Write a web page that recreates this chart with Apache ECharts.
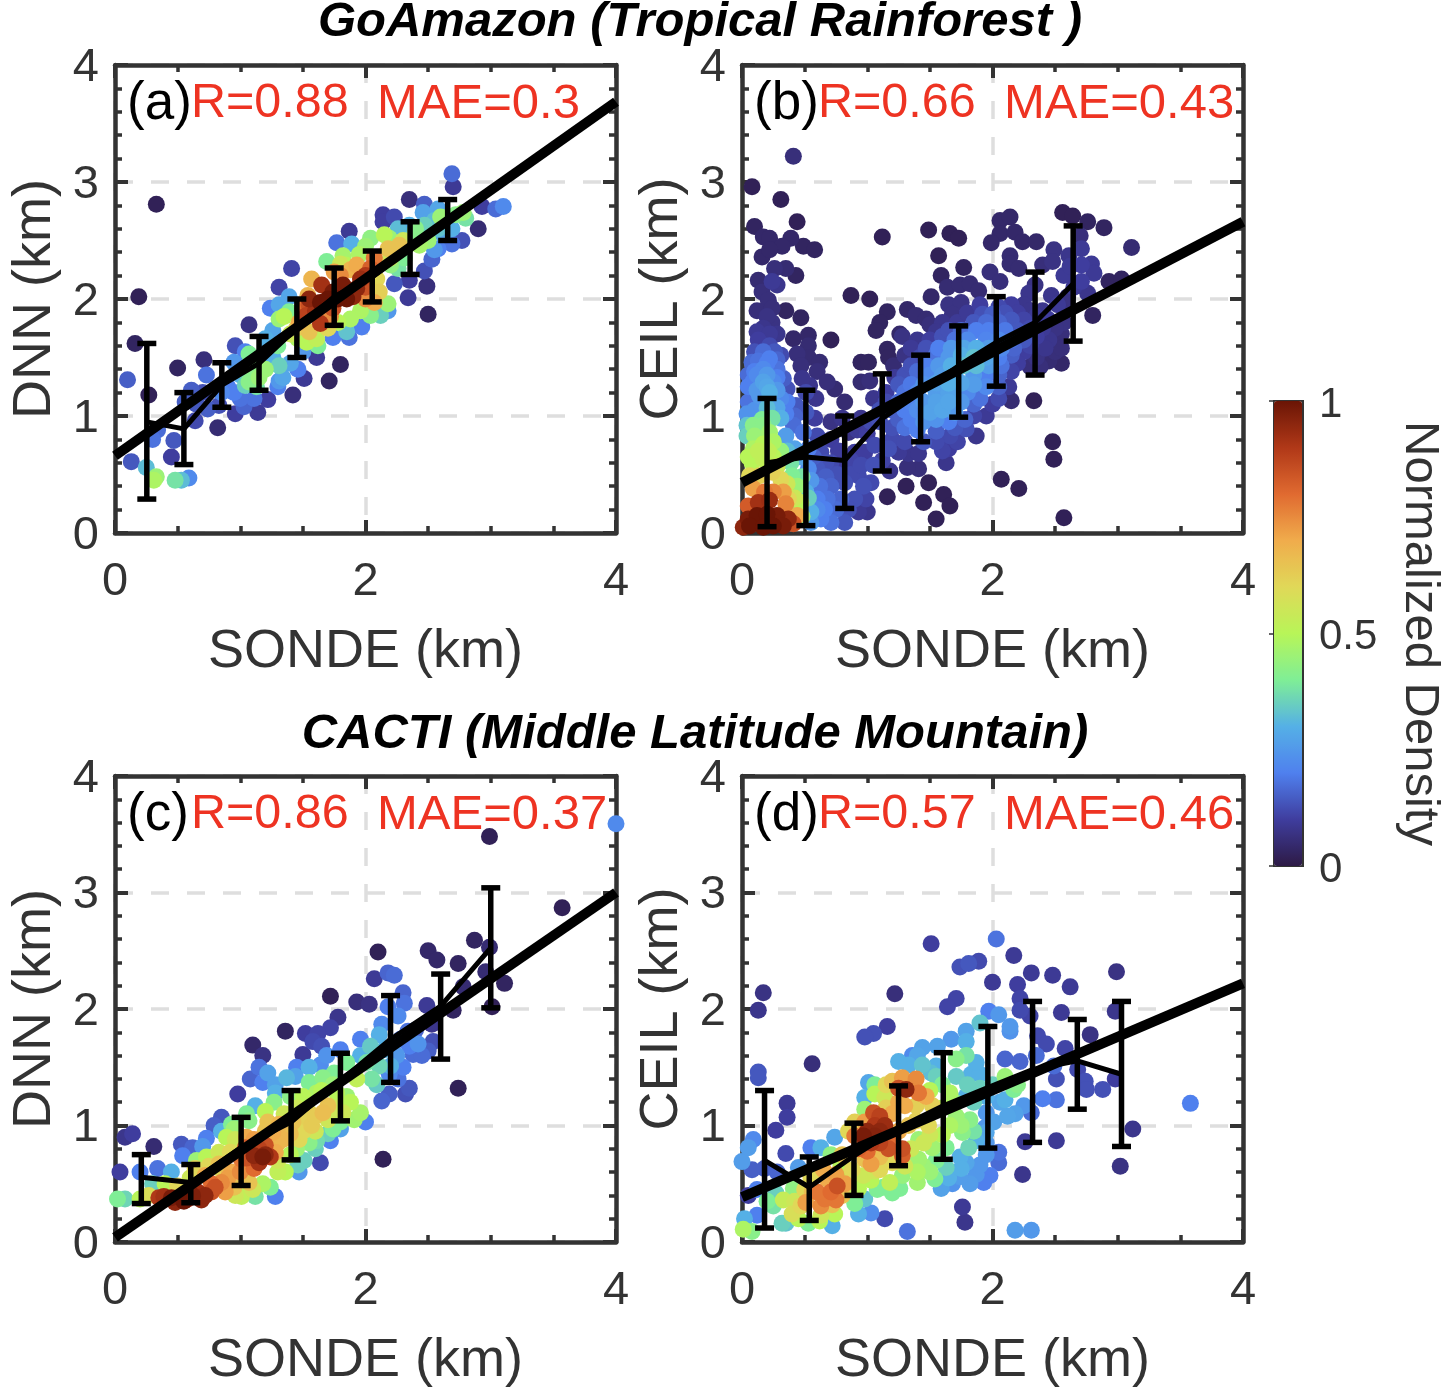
<!DOCTYPE html>
<html><head><meta charset="utf-8">
<style>html,body{margin:0;padding:0;background:#fff}#c{width:1446px;height:1389px}</style>
<script src="https://cdn.jsdelivr.net/npm/echarts@6/dist/echarts.min.js"></script>
</head><body><div id="c"></div>
<script>
// [sonde, retrieval, normalized density]
const scatterA=[[.33,2.81,.02],[.19,2.02,.02],[.16,1.62,.03],[.10,1.31,.15],[.27,1.18,.02],[.50,1.41,.03],[.71,1.48,.06],[.13,.61,.14],[.25,.56,.32],[.33,.48,.45],[.31,.45,.48],[.48,.45,.38],[.53,.45,.32],[.59,.47,.22],[.45,.65,.1],[.47,.79,.14],[.30,.80,.18],[.34,.88,.17],[.64,.96,.12],[.82,.90,.05],[.56,1.12,.15],[.61,1.22,.15],[.73,1.35,.18],[.83,1.09,.13],[.74,1.06,.15],[.96,1.02,.1],[1.03,1.08,.16],[1.14,1.03,.09],[1.22,1.14,.1],[1.11,1.15,.18],[1.42,1.18,.06],[1.51,1.32,.09],[1.46,1.40,.2],[1.61,1.50,.09],[1.71,1.30,.03],[1.80,1.44,.03],[1.31,1.30,.25],[1.34,1.33,.28],[1.31,1.43,.35],[1.07,1.29,.42],[1.15,1.33,.45],[1.04,1.26,.35],[.96,1.60,.13],[1.07,1.78,.07],[1.04,1.55,.2],[.95,1.46,.25],[1.07,1.53,.4],[1.19,1.49,.3],[1.26,1.73,.28],[1.24,1.92,.2],[1.31,2.10,.11],[1.41,2.26,.11],[1.31,1.95,.28],[1.39,2.02,.28],[1.35,1.85,.5],[1.26,1.5,.3],[1.2,1.66,.3],[1.04,1.38,.35],[.85,1.2,.22],[.9,1.25,.2],
[1.65,2.12,.92],[1.55,2.0,.95],[1.64,1.97,1],[1.74,2.06,.98],[1.82,2.12,.98],[1.85,2.0,1],[1.93,2.09,.95],[1.96,2.17,.93],[2.04,2.26,.82],[2.07,2.35,.78],[1.74,1.92,.85],[1.64,1.79,.9],[1.53,1.86,.88],[1.5,1.92,.8],[1.57,2.17,.68],[1.88,2.25,.68],[1.54,2.03,.68],[1.8,2.2,.75],[2.18,2.43,.65],[2.27,2.46,.65],[1.55,1.72,.65],[1.93,2.29,.7],[2.07,1.97,.7],[2.11,2.06,.62],[2.09,2.17,.6],
[1.61,1.66,.52],[1.53,1.63,.5],[1.46,1.66,.48],[1.31,1.83,.45],[1.39,1.89,.4],[1.84,2.29,.5],[1.82,2.37,.47],[1.69,2.32,.4],[2.04,2.52,.43],[1.96,1.9,.48],[1.88,1.83,.48],[2.04,1.86,.42],[2.18,1.96,.45],[2.12,1.86,.35],[2.18,1.9,.25],[1.85,1.72,.33],[1.74,1.67,.2],[1.87,1.67,.18],[1.97,1.76,.2],[1.89,2.47,.3],[1.77,2.48,.18],[1.87,2.58,.09],[2.23,2.13,.14],[2.34,2.01,.09],[2.49,2.11,.06],[2.5,1.87,.03],[2.35,2.16,.1],[2.47,2.24,.13],[2.53,2.34,.16],[2.58,2.43,.2],[2.69,2.47,.18],[2.77,2.5,.13],[2.9,2.6,.05],[2.93,2.79,.1],[3.04,2.77,.17],[3.1,2.79,.22],[2.69,3.07,.17],[2.7,2.96,.09],[2.35,2.85,.06],[2.47,2.81,.15],[2.46,2.74,.27],[2.58,2.77,.28],[2.14,2.72,.1],[2.23,2.7,.12],[2.14,2.66,.1],[2.55,2.67,.32],[2.72,2.72,.42],[2.78,2.74,.45],[2.8,2.69,.38],[2.47,2.63,.35],[2.58,2.6,.33],[2.69,2.6,.3],[2.39,2.55,.42],[2.43,2.46,.47],[2.5,2.5,.45],[2.31,2.35,.4],[2.26,2.26,.38],[2.2,2.29,.43],[2.19,2.52,.45],[2.26,2.6,.32],[2.35,2.63,.3],
[1.7,2.0,1],[1.6,1.9,.92],[1.78,2.0,1],[1.9,2.02,.95],[2.0,2.1,.85],[1.45,1.75,.62],[1.4,1.7,.55],[1.3,1.6,.4],[1.2,1.4,.45],[1.1,1.4,.42],[1.0,1.35,.3],[1.13,1.25,.38],[1.3,1.25,.2],[.95,1.2,.2],[1.0,1.15,.18],[.7,1.2,.13],[.65,1.1,.14],[1.5,1.55,.25],[1.4,1.45,.28],[1.62,1.6,.4],[1.55,1.95,.85],[1.47,1.8,.7],[1.7,1.75,.6],[1.78,1.8,.5],[2.0,2.0,.75],[2.1,2.3,.6],[2.2,2.35,.55],[2.3,2.5,.55],[2.4,2.6,.42],[2.6,2.7,.45],[2.62,2.55,.28],[2.55,2.42,.25],[1.95,2.38,.48],[2.0,2.45,.45],[1.8,2.3,.55],[2.15,2.55,.5],[1.75,2.23,.72],[2.0,2.2,.9],[1.72,1.85,.75]];
const scatterB=[[.08,2.96,.02],[.41,3.22,.06],[.31,2.85,.02],[.10,2.62,.03],[.44,2.66,.02],[.17,2.53,.04],[.22,2.52,.04],[.39,2.52,.04],[.32,2.45,.04],[.49,2.45,.03],[.58,2.42,.03],[.16,2.36,.04],[.22,2.42,.04],[.26,2.26,.06],[.35,2.26,.05],[.13,2.16,.05],[.24,2.15,.09],[.43,2.2,.03],[.16,2.06,.06],[.28,2.12,.08],[.21,1.99,.06],[.12,1.90,.06],[.24,1.92,.06],[.35,1.90,.03],[.47,1.84,.03],[.24,1.80,.07],[.17,1.75,.08],[.28,1.70,.08],[.13,1.65,.1],[.17,1.55,.17],[.22,1.60,.12],[.08,1.46,.17],[.22,1.49,.2],[.31,1.52,.12],[.10,1.38,.2],[.17,1.40,.22],[.28,1.40,.18],[.17,1.29,.27],[.09,1.30,.2],[.25,1.29,.22],[.33,1.32,.15],[.05,1.12,.18],[.14,1.17,.25],[.22,1.20,.3],[.31,1.15,.22],[.36,1.23,.13],
[.04,.92,.33],[.09,.92,.42],[.04,.83,.35],[.1,.83,.45],[.17,.92,.42],[.24,.98,.38],[.31,.98,.3],[.22,.86,.46],[.35,.83,.26],[.09,.72,.48],[.17,.76,.5],[.25,.78,.48],[.31,.7,.44],[.08,.6,.5],[.17,.63,.52],[.25,.65,.5],[.39,.6,.38],[.40,.49,.4],[.44,.4,.45],[.47,.26,.5],[.44,.2,.45],[.51,.35,.3],[.55,.18,.3],[.06,.49,.6],[.14,.49,.62],[.24,.52,.62],[.31,.46,.6],[.09,.38,.72],[.18,.35,.78],[.25,.35,.76],[.33,.35,.72],[.37,.29,.6],[.35,.25,.76],[.05,.23,.83],[.13,.26,.92],[.22,.28,.93],[.05,.12,.98],[.12,.15,1],[.2,.16,1],[.28,.15,.98],[.37,.12,.95],[.06,.06,1],[.17,.05,1],[.25,.06,1],[.33,.06,.98],[.41,.08,.85],[.01,.05,.95],
[.41,1.66,.04],[.53,1.69,.04],[.71,1.65,.02],[.53,1.6,.05],[.44,1.53,.06],[.53,1.5,.05],[.47,1.43,.06],[.62,1.46,.05],[.6,1.38,.06],[.68,1.29,.06],[.74,1.23,.05],[.82,1.12,.05],[.59,1.15,.08],[.54,1.26,.08],[.48,1.32,.08],[.51,1.2,.12],[.58,.98,.1],[.51,1.03,.14],[.43,1.09,.14],[.41,.92,.17],[.49,.86,.18],[.6,.83,.12],[.71,.95,.07],[.8,.98,.08],[.85,.86,.07],[.71,.8,.1],[.63,.69,.12],[.53,.72,.2],[.6,.55,.14],[.71,.6,.12],[.82,.58,.1],[.9,.69,.1],[.98,.69,.1],[.62,.4,.18],[.71,.4,.16],[.82,.43,.13],[.93,.49,.12],[1.03,.43,.12],[.6,.29,.2],[.68,.29,.18],[.79,.29,.16],[.9,.29,.13],[.99,.29,.11],[.63,.12,.2],[.71,.09,.18],[.82,.09,.14],[.93,.18,.09],[1.0,.18,.08],[.55,.09,.25],
[1.12,2.53,.02],[1.49,2.59,.02],[1.66,2.56,.02],[1.73,2.52,.02],[1.57,2.37,.02],[1.77,2.27,.03],[1.59,2.2,.03],[.87,2.03,.02],[1.02,2.0,.02],[1.51,2.02,.04],[1.64,2.1,.05],[1.74,2.12,.05],[1.82,2.13,.05],[1.89,2.07,.05],[1.16,1.89,.03],[1.32,1.91,.04],[1.1,1.8,.03],[1.07,1.73,.03],[1.26,1.7,.04],[1.39,1.86,.05],[1.47,1.83,.05],[1.16,1.57,.03],[1.17,1.5,.03],[.95,1.46,.03],[1.01,1.46,.03],[1.21,1.43,.05],[.95,1.29,.05],[1.02,1.3,.06],
[2.06,2.67,.04],[2.14,2.7,.04],[2.06,2.56,.04],[2.18,2.57,.04],[1.99,2.48,.04],[2.24,2.49,.04],[2.35,2.49,.04],[2.14,2.37,.05],[2.14,2.3,.05],[2.21,2.26,.05],[1.98,2.23,.06],[2.06,2.15,.06],[2.56,2.74,.02],[2.64,2.71,.02],[2.76,2.66,.03],[2.89,2.61,.03],[3.11,2.44,.05],[2.93,2.15,.03],[3.03,2.17,.03],[2.8,1.86,.03],[2.7,2.54,.06],[2.49,2.42,.07],[2.61,2.37,.08],[2.71,2.43,.09],[2.4,2.29,.06],[2.48,2.32,.07],[2.79,2.3,.09],[2.71,2.29,.1],[2.81,2.22,.09],[2.57,2.2,.09],[2.71,2.15,.1],[2.76,2.05,.08],[2.47,2.03,.08],[2.29,2.05,.08],[2.34,2.12,.07],[2.52,1.95,.09],[2.6,1.92,.07],[2.57,1.8,.07],[2.44,1.83,.1],[2.33,1.13,.02],[2.48,.78,.02],[2.49,.63,.02],[2.07,.46,.02],[2.21,.38,.02],[2.57,.13,.02],[1.16,.31,.02],[1.31,.4,.02],[1.49,.43,.02],[1.61,.33,.02],[1.45,.26,.02],[1.66,.23,.02],[1.55,.12,.02],[1.63,.6,.08],[1.6,.7,.11],[1.41,.55,.06],[1.32,.56,.06],[1.33,.68,.08],[1.41,.68,.08],[1.25,.69,.09],[1.18,.53,.08],
[1.06,.75,.12],[1.17,.72,.13],[1.1,.95,.13],[1.2,.9,.13],[1.3,.9,.18],[1.4,.88,.2],[1.55,.87,.15],[1.7,.9,.14],[1.87,.83,.08],[1.79,.89,.13],[1.66,.83,.12],[1.1,1.05,.13],[1.2,1.05,.15],[1.3,1.05,.2],[1.4,1.05,.23],[1.5,1.03,.27],[1.6,1.05,.28],[1.7,1.03,.25],[1.85,1.0,.11],[1.95,1.0,.09],[2.0,1.1,.1],[1.05,1.15,.08],[1.15,1.2,.1],[1.3,1.2,.18],[1.4,1.2,.22],[1.55,1.2,.26],[1.65,1.2,.27],[1.8,1.2,.22],[1.9,1.15,.18],[2.05,1.15,.12],[2.15,1.13,.05],[2.13,1.25,.09],[1.22,1.33,.09],[1.3,1.35,.13],[1.4,1.38,.17],[1.5,1.35,.22],[1.6,1.35,.26],[1.7,1.35,.28],[1.85,1.35,.25],[1.95,1.35,.2],[2.05,1.35,.16],[2.15,1.38,.11],[2.3,1.42,.06],[2.45,1.47,.05],[2.55,1.45,.04],[1.3,1.52,.07],[1.42,1.5,.12],[1.55,1.52,.18],[1.65,1.5,.25],[1.75,1.52,.3],[1.85,1.5,.33],[1.95,1.5,.28],[2.05,1.5,.2],[2.15,1.52,.15],[2.25,1.55,.1],[2.35,1.5,.07],[2.5,1.55,.06],[1.28,1.68,.07],[1.4,1.65,.08],[1.5,1.65,.1],[1.6,1.68,.13],[1.7,1.65,.18],[1.8,1.65,.22],[1.95,1.65,.21],[2.05,1.65,.22],[2.15,1.65,.18],[2.25,1.65,.14],[2.35,1.68,.1],[2.45,1.65,.08],[2.55,1.7,.06],[1.5,1.78,.06],[1.6,1.8,.08],[1.72,1.8,.09],[1.85,1.8,.14],[1.95,1.8,.17],[2.05,1.8,.16],[2.15,1.82,.14],[2.25,1.82,.11],[2.35,1.85,.09],[1.65,1.95,.07],[1.75,1.97,.07],[1.9,1.95,.1],[2.05,1.93,.12],[2.15,1.95,.1],[2.25,1.95,.08],
[.05,1.25,.2],[.12,1.22,.25],[.2,1.25,.28],[.28,1.22,.25],[.36,1.12,.2],[.12,1.35,.22],[.2,1.35,.25],[.28,1.33,.2],[.05,1.35,.17],[.13,1.47,.18],[.2,1.45,.2],[.28,1.48,.16],[.1,1.55,.13],[.26,1.55,.14],[.12,1.72,.09],[.22,1.7,.09],[.2,1.85,.07],[.1,1.05,.24],[.2,1.07,.32],[.28,1.07,.28],[.04,1.02,.24],[.35,1.02,.2],[.42,1.0,.16],[.16,.97,.4],[.05,.65,.5],[.13,.7,.52],[.21,.7,.52],[.28,.57,.56],[.36,.7,.32],[.42,.72,.27],[.47,.65,.28],[.53,.55,.22],[.48,.48,.38],[.55,.45,.25],[.53,.3,.35],[.48,.14,.45],[.42,.3,.55],[.36,.42,.55],[.44,.15,.7],[.6,.2,.22],[.66,.2,.2],[.75,.2,.17],[.85,.2,.13],[.67,.48,.15],[.76,.5,.13],[.87,.5,.12],[.97,.4,.13],[.57,.65,.15],[.67,.6,.13],[.77,.7,.1],[.87,.62,.11],[.95,.58,.12],[1.05,.58,.13],[1.12,.62,.11],[1.0,.85,.1],[.92,.88,.09],[.95,.98,.08],[1.03,.95,.12],
[1.15,1.12,.12],[1.25,1.12,.17],[1.35,1.12,.21],[1.45,1.12,.25],[1.55,1.12,.27],[1.65,1.12,.28],[1.75,1.12,.25],[1.85,1.1,.16],[1.25,.97,.15],[1.35,.97,.2],[1.45,.95,.24],[1.55,.97,.24],[1.65,.95,.2],[1.78,.97,.16],[1.2,.8,.12],[1.3,.78,.12],[1.45,.78,.14],[1.55,.78,.12],[1.65,.72,.1],[1.72,.78,.11],[1.25,1.27,.14],[1.35,1.27,.19],[1.45,1.27,.24],[1.55,1.28,.27],[1.65,1.28,.3],[1.75,1.28,.28],[1.85,1.27,.26],[1.95,1.25,.22],[2.05,1.25,.15],[1.35,1.43,.13],[1.47,1.43,.2],[1.57,1.43,.25],[1.67,1.43,.3],[1.77,1.43,.33],[1.87,1.43,.32],[1.97,1.43,.26],[2.07,1.43,.18],[2.2,1.45,.1],[2.38,1.42,.06],[1.35,1.58,.09],[1.47,1.58,.13],[1.57,1.58,.2],[1.67,1.58,.25],[1.77,1.58,.28],[1.87,1.58,.3],[1.97,1.58,.26],[2.07,1.58,.22],[2.17,1.58,.16],[2.3,1.6,.11],[2.42,1.58,.08],[2.55,1.58,.06],[1.55,1.72,.08],[1.65,1.73,.13],[1.75,1.73,.17],[1.87,1.73,.2],[1.97,1.73,.2],[2.1,1.73,.19],[2.2,1.73,.14],[2.3,1.75,.12],[2.4,1.75,.09],[2.5,1.75,.07],[1.68,1.87,.07],[1.8,1.88,.09],[1.92,1.87,.13],[2.0,1.87,.15],[2.1,1.88,.13],[2.2,1.88,.1],[2.3,1.9,.08],[2.4,1.9,.08],[2.6,2.02,.07],[2.65,2.1,.09],[2.62,2.28,.09]];
const scatterC=[[2.99,3.48,.02],[4.0,3.59,.22],[3.57,2.87,.02],[2.87,2.59,.03],[2.99,2.53,.05],[2.5,2.5,.04],[2.57,2.42,.04],[2.74,2.39,.03],[2.1,2.49,.02],[2.78,2.19,.05],[2.96,2.32,.05],[3.11,2.22,.03],[3.01,2.02,.02],[2.7,1.99,.03],[2.53,1.87,.08],[2.49,2.03,.09],[1.72,2.11,.02],[1.93,2.06,.06],[2.03,2.04,.07],[1.78,1.93,.08],[1.72,1.84,.11],[1.36,1.81,.03],[1.52,1.79,.1],[1.62,1.79,.11],[1.58,1.72,.12],[1.65,1.68,.13],[1.5,1.61,.09],[1.1,1.69,.04],[1.18,1.6,.07],[2.07,2.26,.09],[2.18,2.31,.16],[2.23,2.29,.17],[2.3,2.14,.16],[2.31,2.05,.18],[2.18,2.02,.2],[2.26,1.94,.22],[2.13,1.87,.22],[2.34,1.81,.18],[2.42,1.7,.24],[2.54,1.72,.13],[2.5,1.64,.15],[2.38,1.61,.17],[2.35,1.68,.2],[2.28,1.74,.18],[2.11,1.78,.3],[1.96,1.74,.2],[2.04,1.68,.34],[1.96,1.6,.3],[1.8,1.65,.2],[1.69,1.6,.24],[1.64,1.52,.23],[1.85,1.54,.4],[2.01,1.54,.38],[2.11,1.51,.36],[2.2,1.51,.3],[2.19,1.44,.22],[2.26,1.4,.18],[2.35,1.32,.14],[2.32,1.27,.13],[2.19,1.27,.15],[2.13,1.21,.16],[2.05,1.4,.38],[2.09,1.35,.34],[2.74,1.32,.02],[2.14,.71,.02],
[.08,.9,.08],[.14,.93,.1],[.31,.82,.05],[.04,.6,.1],[.2,.6,.2],[.34,.63,.18],[.45,.6,.3],[.53,.84,.14],[.62,.81,.16],[.54,.74,.2],[.73,.89,.2],[.79,1.0,.15],[.85,1.07,.14],[.98,1.27,.1],[1.08,1.4,.16],[1.15,1.5,.18],[1.18,1.37,.2],[1.22,1.45,.27],[1.28,1.35,.27],[1.37,1.41,.31],[1.44,1.42,.27],[1.28,1.28,.3],[1.55,1.37,.4],[1.66,1.41,.42],[1.61,1.28,.48],[1.12,1.17,.3],[1.27,1.2,.42],[.93,1.01,.4],[1.07,1.04,.42],
[2.0,1.03,.2],[1.8,.97,.27],[1.72,.87,.2],[1.64,.68,.12],[1.47,.6,.25],[1.46,.66,.35],[1.51,.7,.35],[1.61,.87,.37],[1.74,.97,.4],[1.55,.85,.42],[1.28,.39,.2],[1.12,.39,.38],[1.24,.47,.4],[1.18,.5,.48],[1.36,.6,.5],[1.3,.6,.52],[1.01,.39,.52],[.96,.4,.55],[.02,.37,.4],[.08,.37,.36],[.27,.4,.58],[.2,.37,.5],
[.39,.39,.92],[.48,.34,.95],[.58,.37,.9],[.69,.36,.95],[.66,.43,.93],[.77,.43,.85],[.35,.38,.9],[.77,.5,.8],[.85,.51,.75],[.88,.43,.72],[.72,.57,.7],[.64,.63,.6],[.73,.73,.5],[.83,.67,.65],[.93,.6,.7],[1.07,.51,.65],[1.01,.71,.78],[1.11,.63,.8],[1.18,.73,.98],[1.11,.74,.95],[1.24,.73,.9],[1.04,.81,.82],[1.2,.83,.85],[1.28,.77,.7],[1.11,.88,.72],[1.26,.94,.7],[1.34,.88,.68],[1.47,.88,.6],[1.57,1.0,.63],[1.66,1.11,.66],[1.7,1.17,.65],[1.55,1.11,.6],[1.42,1.03,.65],[1.31,1.01,.68],[1.22,1.03,.65],[.96,.88,.55],[.89,.9,.5],[.92,.77,.6],[.83,.77,.55],[1.82,1.11,.55],[1.88,1.2,.5],[1.96,1.11,.47],[1.91,1.05,.46],[1.5,1.25,.5],[1.77,1.28,.5],[1.93,1.4,.52],[1.74,1.35,.45],
[.45,.38,.98],[.55,.35,1],[.62,.4,.97],[.72,.4,.95],[.8,.47,.85],[.9,.55,.72],[1.0,.6,.75],[1.05,.72,.85],[1.15,.68,.92],[1.2,.75,.95],[1.15,.8,.88],[1.05,.9,.7],[1.2,.95,.65],[1.3,.85,.68],[1.4,.93,.66],[1.5,.95,.6],[1.5,1.08,.62],[1.6,1.08,.63],[1.6,.95,.55],[1.7,1.05,.55],[1.75,1.15,.55],[1.85,1.25,.45],[1.45,1.15,.55],[1.35,1.1,.55],[1.2,1.12,.5],[1.4,1.25,.42],[1.3,.7,.55],[1.4,.75,.5],[1.45,.8,.45],[1.6,.8,.35],[1.7,.93,.35],[1.8,1.03,.4],[1.1,.45,.55],[.95,.47,.65],[.85,.62,.6],[.75,.65,.6],[.65,.7,.45],[.6,.55,.55],[.5,.48,.6],[.4,.5,.5],[.3,.5,.35],[.95,.97,.45],[1.05,1.1,.4],[.85,.95,.3],[.7,.82,.25],[2.4,1.82,.16],[2.25,1.6,.25],[2.15,1.65,.3],[2.3,1.5,.2],[2.45,1.6,.17],[1.55,1.5,.3],[1.45,1.5,.2],[1.75,1.45,.4],[1.65,1.3,.5]];
const scatterD=[[1.51,2.56,.1],[2.03,2.6,.18],[2.17,2.46,.09],[1.89,2.41,.12],[1.81,2.39,.14],[1.74,2.36,.13],[2.31,2.31,.09],[2.48,2.29,.09],[2.62,2.19,.09],[2.99,2.32,.07],[2.0,2.23,.09],[2.2,2.21,.1],[1.22,2.13,.06],[.17,2.14,.07],[.13,1.99,.08],[1.71,2.09,.11],[1.64,2.02,.11],[2.22,2.09,.11],[2.22,1.99,.12],[2.3,1.94,.11],[2.55,1.97,.09],[2.98,1.98,.08],[1.16,1.85,.1],[1.05,1.79,.13],[.98,1.76,.13],[.56,1.53,.06],[.13,1.46,.14],[.13,1.41,.14],[.36,1.19,.09],[.36,1.07,.1],[.27,.96,.1],[.35,.76,.12],[2.78,1.78,.07],[2.36,1.77,.12],[2.43,1.7,.12],[2.58,1.66,.11],[2.1,1.57,.16],[2.22,1.55,.16],[2.35,1.6,.17],[2.49,1.51,.17],[2.51,1.4,.13],[2.68,1.48,.12],[2.74,1.38,.13],[2.75,1.31,.13],[2.88,1.31,.13],[2.98,1.4,.1],[3.58,1.19,.2],[3.12,.97,.08],[3.02,.65,.07],[2.51,.87,.09],[2.26,.86,.09],[2.24,.58,.08],[2.51,1.22,.18],[2.4,1.23,.2],[2.31,1.11,.17],[2.25,1.17,.25],[2.18,1.1,.27],[2.12,1.08,.28],[2.06,1.2,.28],[1.95,1.11,.25],[2.01,1.03,.27],[1.94,.98,.25],
[1.76,.3,.09],[1.78,.17,.08],[2.18,.1,.26],[2.31,.1,.25],[1.32,.09,.18],[1.14,.2,.12],[1.03,.25,.23],[.93,.24,.3],[.98,.37,.33],[2.05,.77,.18],[2.05,.68,.17],[1.98,.57,.2],[1.93,.51,.2],[1.87,.58,.25],[1.82,.5,.26],[1.74,.56,.26],[1.68,.5,.24],[1.59,.46,.27],[1.9,.66,.25],[1.79,.68,.28],[1.74,.73,.3],[1.63,.64,.35],[1.54,.54,.4],[1.4,.51,.46],[1.26,.46,.4],[1.13,.47,.4],[1.28,.57,.44],[1.18,.51,.52],[1.03,.53,.5],[.97,.57,.55],[1.06,.61,.55],[1.41,.71,.46],[1.52,.81,.46],[1.41,.88,.45],[1.63,.81,.4],[1.81,.81,.36],[1.87,.87,.3],[1.95,.94,.28],[1.76,.94,.42],[1.66,1.0,.48],[1.82,1.05,.42],[1.71,1.08,.45],[1.49,1.0,.6],
[1.66,1.28,.48],[1.79,1.25,.3],[1.83,1.44,.3],[1.9,1.44,.3],[1.87,1.54,.3],[1.79,1.6,.38],[1.71,1.42,.34],[1.71,1.57,.42],[1.79,1.72,.3],[1.79,1.81,.27],[1.67,1.74,.25],[1.9,1.88,.33],[1.97,1.98,.2],[2.05,1.95,.25],[2.14,1.85,.25],[2.14,1.81,.24],[1.56,1.68,.27],[1.44,1.67,.27],[1.36,1.6,.22],[1.33,1.52,.3],[1.44,1.52,.33],[1.55,1.51,.3],[1.51,1.45,.32],[2.1,1.42,.45],[2.17,1.31,.4],[2.2,1.35,.42],[1.01,1.37,.28],[1.06,1.35,.4],[.98,1.24,.3],[1.06,1.27,.5],[1.14,1.24,.55],[.98,1.14,.45],
[1.2,1.38,.65],[1.28,1.41,.72],[1.39,1.4,.75],[1.31,1.31,.95],[1.41,1.28,.78],[1.47,1.25,.7],[1.52,1.17,.62],[1.39,1.17,.62],[1.05,1.11,.85],[1.1,1.08,.88],[.98,1.03,.72],[1.06,1.0,.9],[1.14,1.0,.93],[.97,.91,.98],[1.06,.91,.96],[.9,.91,.78],[.93,.8,.82],[1.03,.85,.9],[1.17,.8,.85],[1.28,.8,.85],[1.28,.74,.82],[1.17,.91,.75],[1.33,1.0,.65],[1.39,1.04,.62],[1.03,.67,.72],[1.1,.73,.66],[.98,.71,.65],
[.76,.48,.85],[.82,.5,.72],[.71,.43,.8],[.75,.36,.78],[.66,.37,.78],[.6,.43,.78],[.68,.54,.7],[.63,.31,.75],[.51,.34,.72],[.56,.43,.66],[.79,.66,.5],[.71,.75,.43],[.74,.9,.28],[.63,.81,.3],[.55,.81,.2],[.45,.64,.26],[.28,.6,.16],[.18,.63,.15],[.08,.62,.15],[0,.69,.26],[.05,.81,.26],[.09,.88,.22],[.05,.4,.1],[.12,.23,.2],[.02,.2,.3],[.01,.11,.48],[.08,.09,.42],[.35,.16,.33],[.32,.16,.35],[.53,.16,.4],[.72,.14,.3],[.25,.31,.38],[.41,.46,.43],[.33,.36,.53],[.4,.24,.58],[.47,.31,.6],[.74,.24,.5],[.63,.23,.55],[.93,.46,.5],[.85,.57,.55],
[1.0,.95,.95],[1.1,.95,.95],[1.0,.78,.8],[1.1,.85,.88],[1.2,.9,.8],[1.25,.95,.7],[1.1,.62,.6],[1.2,.68,.6],[1.3,.65,.55],[1.35,.8,.55],[1.45,.85,.55],[1.5,.92,.55],[1.45,.65,.45],[1.55,.7,.4],[1.6,.92,.5],[1.75,1.0,.45],[1.85,.95,.38],[1.6,1.15,.5],[1.7,1.2,.42],[1.85,1.2,.35],[1.95,1.25,.3],[2.0,1.35,.35],[1.9,1.32,.35],[1.8,1.35,.35],[1.6,1.35,.4],[1.5,1.3,.5],[1.55,1.42,.35],[1.4,1.6,.28],[1.25,1.55,.3],[1.15,1.15,.62],[1.25,1.2,.7],[1.35,1.32,.75],[1.25,1.32,.85],[1.15,1.35,.6],[.9,1.03,.62],[.85,.95,.6],[.8,.75,.65],[.88,.62,.6],[.75,.58,.72],[.65,.62,.7],[.55,.55,.6],[.5,.45,.6],[.42,.35,.55],[.62,.18,.5],[.72,.32,.65],[.8,.4,.65],[.45,.2,.5],[.2,.35,.4],[.27,.42,.35],[.12,.45,.2],[1.08,.45,.4],[1.2,.42,.4],[.9,.33,.4],[.85,.45,.55],[1.4,.6,.48],[1.5,.6,.45],[1.65,.55,.3],[1.75,.63,.3],[1.95,.75,.25],[1.95,.85,.25],[2.1,1.22,.3],[1.3,1.17,.7],[1.2,1.1,.7]];
// [sonde bin centre, mean, low, high]
const binsA=[[.254,.95,.29,1.62],[.55,.89,.585,1.2],[.853,1.265,1.075,1.455],[1.15,1.45,1.22,1.68],[1.452,1.75,1.5,2.0],[1.75,2.02,1.775,2.265],[2.054,2.19,1.975,2.41],[2.356,2.43,2.21,2.66],[2.656,2.68,2.5,2.85]];
const binsB=[[.2,.6,.054,1.15],[.51,.65,.063,1.22],[.82,.62,.21,1.0],[1.12,.98,.53,1.36],[1.426,1.2,.78,1.52],[1.73,1.43,.99,1.77],[2.03,1.63,1.255,2.02],[2.34,1.8,1.35,2.23],[2.644,2.13,1.64,2.625]];
const binsC=[[.21,.555,.33,.75],[.605,.51,.337,.665],[1.007,.81,.485,1.07],[1.406,1.03,.705,1.3],[1.8,1.385,1.04,1.62],[2.2,1.74,1.37,2.115],[2.6,2.025,1.57,2.3],[3.0,2.525,2.01,3.04]];
const binsD=[[.18,.7,.12,1.3],[.537,.47,.185,.73],[.894,.74,.4,1.02],[1.25,.98,.655,1.34],[1.607,1.17,.71,1.625],[1.963,1.325,.806,1.85],[2.32,1.48,.855,2.065],[2.677,1.555,1.14,1.91],[3.03,1.44,.82,2.065]];
const fitA=[[0,.66],[4,3.686]];
const fitB=[[0,.43],[4,2.66]];
const fitC=[[0,.04],[4,3.0]];
const fitD=[[0,.385],[4,2.22]];
const panelTags=['(a)','(b)','(c)','(d)'];
const panelR=['R=0.88','R=0.66','R=0.86','R=0.57'];
const panelMAE=['MAE=0.3','MAE=0.43','MAE=0.37','MAE=0.46'];
const yNames=['DNN (km)','CEIL (km)','DNN (km)','CEIL (km)'];
const xName='SONDE (km)';
const titles=['GoAmazon (Tropical Rainforest )','CACTI (Middle Latitude Mountain)'];
const colorStops=['#2d1a45','#3f3d9e','#4f80ee','#55b0e6','#7fee96','#b8f558','#e0d858','#f0ac4c','#e06a30','#b03818','#6a1505'];

const FONT='"Liberation Sans",Arial,sans-serif', INK='#333';
const rects=[{l:115,t:65},{l:742,t:65},{l:115,t:776},{l:742,t:776}];
const W=501,H=468;
const scatters=[scatterA,scatterB,scatterC,scatterD],bins=[binsA,binsB,binsC,binsD],fits=[fitA,fitB,fitC,fitD];
const grid=[],xAxis=[],yAxis=[],series=[],graphic=[];
const split={show:true,lineStyle:{color:'#dedede',width:3.5,type:[18,18]}};
rects.forEach((r,i)=>{
  grid.push({left:r.l,top:r.t,width:W,height:H,show:false});
  const common={min:0,axisLine:{onZero:false,lineStyle:{color:INK,width:4.5}},axisTick:{inside:true,lineStyle:{color:INK,width:4}},minorTick:{show:true,lineStyle:{color:INK,width:3.5}}};
  const xa=(pos,lab)=>({...common,type:'value',gridIndex:i,position:pos,max:4,interval:2,
    axisTick:{...common.axisTick,length:13},minorTick:{...common.minorTick,splitNumber:4,length:7},
    splitLine:lab?split:{show:false},
    axisLabel:{show:lab,fontFamily:FONT,fontSize:47,color:INK,margin:26,hideOverlap:false},
    name:lab?xName:'',nameLocation:'middle',nameGap:92,nameTextStyle:{fontFamily:FONT,fontSize:54,color:INK}});
  const ya=(pos,lab)=>({...common,type:'value',gridIndex:i,position:pos,max:4,interval:1,
    axisTick:{...common.axisTick,length:13},minorTick:{...common.minorTick,splitNumber:5,length:7},
    splitLine:lab?split:{show:false},
    axisLabel:{show:lab,margin:16,hideOverlap:false,formatter:v=>'{a|'+v+'}',
      rich:{a:{fontFamily:FONT,fontSize:47,color:INK,padding:[6,0,0,0]}}},
    name:lab?yNames[i]:'',nameLocation:'middle',nameGap:53,nameTextStyle:{fontFamily:FONT,fontSize:54,color:INK}});
  xAxis.push(xa('bottom',true),xa('top',false));
  yAxis.push(ya('left',true),ya('right',false));
  const xi=i*2,yi=i*2;
  series.push({type:'scatter',xAxisIndex:xi,yAxisIndex:yi,symbolSize:17,clip:false,z:3,
    data:scatters[i].slice().sort((a,b)=>a[2]-b[2]),itemStyle:{opacity:1},silent:true,animation:false,progressive:0});
  series.push({type:'line',xAxisIndex:xi,yAxisIndex:yi,symbol:'none',z:5,animation:false,silent:true,
    data:bins[i].map(b=>[b[0],b[1]]),lineStyle:{color:'#000',width:5}});
  series.push({type:'custom',xAxisIndex:xi,yAxisIndex:yi,z:6,animation:false,silent:true,clip:false,
    data:bins[i],encode:{x:0,y:[2,3]},
    renderItem:(p,api)=>{
      const x=api.value(0),lo=api.coord([x,api.value(2)]),hi=api.coord([x,api.value(3)]);
      const s={stroke:'#000',lineWidth:5.5,fill:null},c=9.5;
      return {type:'group',children:[
        {type:'line',shape:{x1:lo[0],y1:lo[1],x2:hi[0],y2:hi[1]},style:s},
        {type:'line',shape:{x1:lo[0]-c,y1:lo[1],x2:lo[0]+c,y2:lo[1]},style:s},
        {type:'line',shape:{x1:hi[0]-c,y1:hi[1],x2:hi[0]+c,y2:hi[1]},style:s}]};
    }});
  series.push({type:'line',xAxisIndex:xi,yAxisIndex:yi,symbol:'none',z:7,animation:false,silent:true,
    data:fits[i],lineStyle:{color:'#000',width:10,cap:'butt'}});
  const ty=r.t+39;
  const t=(txt,x,fill,sz)=>graphic.push({type:'text',x:x,y:ty,z:20,style:{text:txt,fill:fill,font:sz+'px '+FONT,textVerticalAlign:'middle',verticalAlign:'middle'}});
  t(panelTags[i],r.l+12,'#000',53);
  t(panelR[i],r.l+76,'#ee3322',48.5);
  t(panelMAE[i],r.l+262,'#ee3322',49);
});
// colour-bar axis
grid.push({left:1274,top:401,width:29,height:465,show:true,borderColor:'#333',borderWidth:2,backgroundColor:'#fff'});
xAxis.push({type:'value',gridIndex:4,show:false,min:0,max:1});
yAxis.push({type:'value',gridIndex:4,position:'right',min:0,max:1,interval:.5,z:15,
  axisLine:{show:false},axisTick:{show:true,inside:true,length:5,lineStyle:{color:INK,width:1.5}},splitLine:{show:false},
  axisLabel:{margin:16,formatter:v=>'{a|'+v+'}',rich:{a:{fontFamily:FONT,fontSize:42,color:INK,padding:[8,0,0,0]}}},
  name:'Normalized Density',nameLocation:'middle',nameRotate:-90,nameGap:92,nameTextStyle:{fontFamily:FONT,fontSize:49,color:INK}});
const titleY=[22,734],titleX=[700,695];
titles.forEach((s,i)=>graphic.push({type:'text',x:titleX[i],y:titleY[i],z:20,style:{text:s,fill:'#000',font:'italic bold 49px '+FONT,textAlign:'center',textVerticalAlign:'middle',verticalAlign:'middle'}}));
const chart=echarts.init(document.getElementById('c'),null,{renderer:'canvas'});
chart.setOption({animation:false,backgroundColor:'#fff',grid,xAxis,yAxis,series,graphic,
  visualMap:[{type:'continuous',min:0,max:1,dimension:2,seriesIndex:[0,4,8,12],calculable:false,showLabel:false,text:null,
    left:1259,top:386,itemWidth:28,itemHeight:465,inRange:{color:colorStops},z:10}]});
</script></body></html>
